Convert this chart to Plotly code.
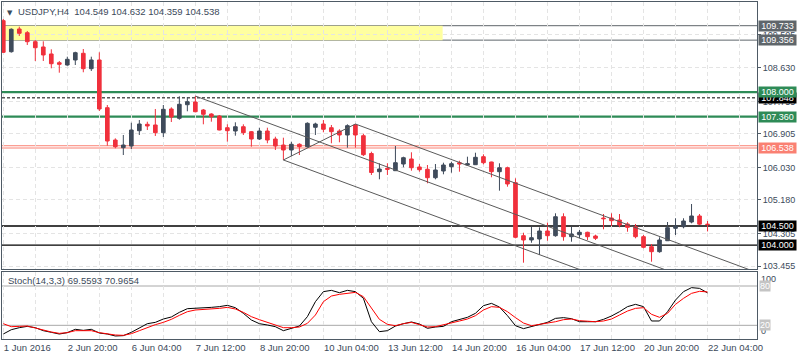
import plotly.graph_objects as go

# ---------------- data ----------------
bars = list(range(89))
opens = [109.864, 109.054, 109.647, 109.550, 109.315, 109.177, 108.994, 108.766, 108.706, 108.837,
         109.012, 108.610, 108.837, 107.591, 106.747, 106.546, 106.590, 106.990, 107.157, 107.139,
         106.938, 107.557, 107.314, 107.669, 107.740, 107.531, 107.426, 107.374, 107.068, 106.982,
         107.094, 106.964, 106.773, 106.982, 106.773, 106.616, 106.486, 106.635, 106.572, 107.079,
         107.165, 107.068, 106.982, 106.878, 107.139, 106.859, 106.394, 105.919, 106.008, 105.945,
         106.120, 106.251, 106.042, 105.982, 105.762, 105.937, 106.050, 106.154, 106.094, 106.102,
         106.311, 106.172, 105.919, 106.023, 105.632, 104.247, 104.135, 104.161, 104.370, 104.247,
         104.743, 104.221, 104.273, 104.336, 104.239, 104.709, 104.709, 104.657, 104.553, 104.482,
         104.221, 103.960, 103.829, 104.116, 104.440, 104.482, 104.605, 104.762, 104.549]
highs = [109.908, 109.665, 109.707, 109.595, 109.359, 109.325, 109.116, 108.811, 108.923, 109.054,
         109.124, 108.923, 109.038, 107.661, 106.791, 106.878, 107.199, 107.269, 107.225, 107.557,
         107.661, 107.601, 107.889, 107.870, 107.896, 107.557, 107.445, 107.400, 107.157, 107.209,
         107.157, 106.982, 107.068, 107.068, 106.833, 106.807, 106.703, 106.661, 107.209, 107.199,
         107.269, 107.139, 107.027, 107.157, 107.165, 106.912, 106.441, 106.138, 106.138, 106.590,
         106.311, 106.426, 106.120, 106.094, 106.120, 106.154, 106.180, 106.206, 106.311, 106.415,
         106.373, 106.180, 106.138, 106.050, 105.746, 104.325, 104.482, 104.466, 104.587, 104.832,
         104.832, 104.482, 104.396, 104.351, 104.273, 104.814, 104.832, 104.814, 104.597, 104.553,
         104.265, 104.030, 104.205, 104.605, 104.702, 104.702, 105.075, 104.814, 104.632]
lows = [109.020, 109.028, 109.464, 109.229, 108.811, 108.811, 108.620, 108.505, 108.688, 108.706,
        108.516, 108.550, 107.505, 106.598, 106.530, 106.355, 106.512, 106.878, 107.008, 106.852,
        106.825, 107.217, 107.277, 107.497, 107.470, 107.157, 107.225, 107.000, 106.703, 106.859,
        106.878, 106.572, 106.747, 106.661, 106.486, 106.225, 106.329, 106.355, 106.546, 106.878,
        106.948, 106.661, 106.687, 106.546, 106.546, 106.329, 105.833, 105.720, 105.833, 105.940,
        106.034, 105.945, 105.919, 105.616, 105.720, 105.851, 105.893, 105.919, 106.090, 106.098,
        106.112, 105.773, 105.423, 105.527, 104.179, 103.542, 104.064, 103.743, 104.116, 104.221,
        104.116, 104.090, 104.179, 104.135, 104.135, 104.414, 104.500, 104.466, 104.351, 104.179,
        103.918, 103.568, 103.803, 104.110, 104.265, 104.440, 104.571, 104.526, 104.359]
closes = [109.038, 109.639, 109.534, 109.315, 109.158, 108.968, 108.740, 108.725, 108.855, 109.028,
          108.610, 108.837, 107.557, 106.721, 106.572, 106.616, 107.008, 107.165, 107.113, 106.938,
          107.549, 107.348, 107.680, 107.748, 107.486, 107.418, 107.356, 107.008, 106.990, 107.094,
          106.938, 106.773, 106.982, 106.747, 106.590, 106.486, 106.635, 106.572, 107.183, 107.165,
          107.027, 106.964, 106.878, 107.121, 106.878, 106.363, 105.898, 105.989, 105.982, 106.154,
          106.285, 106.023, 105.971, 105.762, 105.963, 106.094, 106.128, 106.120, 106.128, 106.295,
          106.154, 105.919, 106.023, 105.598, 104.205, 104.135, 104.195, 104.370, 104.247, 104.743,
          104.221, 104.291, 104.336, 104.221, 104.179, 104.691, 104.639, 104.526, 104.466, 104.221,
          103.944, 103.829, 104.135, 104.456, 104.500, 104.631, 104.762, 104.549, 104.538]

stoch_main = [6.7, 13.3, 16.4, 18.4, 16.4, 11.8, 9.3, 6.7, 8.8, 13.9,
              12.3, 13.9, 8.2, 6.7, 3.7, 4.2, 9.3, 15.4, 22.5, 24.5,
              29.6, 32.7, 39.8, 45.4, 45.9, 45.9, 47.4, 48.5, 50.5, 46.9,
              38.3, 28.1, 22.5, 20.5, 17.9, 11.8, 14.9, 18.9, 33.2, 56.1,
              71.4, 73.4, 69.8, 73.4, 71.4, 61.2, 25.5, 10.3, 11.8, 18.9,
              22.5, 25.1, 22.0, 15.4, 17.4, 18.4, 25.5, 29.1, 32.2, 38.3,
              50.0, 53.5, 47.9, 34.7, 19.4, 14.9, 17.9, 22.0, 24.5, 30.6,
              31.7, 30.1, 25.5, 25.5, 25.5, 29.1, 34.2, 40.8, 48.5, 52.0,
              48.5, 26.6, 26.6, 40.8, 58.6, 71.4, 77.5, 76.4, 69.56]
stoch_signal = [22.5, 17.9, 18.4, 18.9, 15.9, 12.3, 9.8, 7.7, 8.8, 11.8,
                12.3, 11.8, 8.8, 6.7, 5.2, 4.7, 7.2, 11.8, 16.9, 21.0,
                24.5, 29.1, 35.2, 40.8, 43.4, 43.9, 44.9, 45.9, 47.4, 44.9,
                39.8, 33.2, 28.6, 24.5, 20.5, 16.4, 16.4, 17.4, 23.0, 35.7,
                56.1, 64.7, 67.3, 69.3, 70.3, 63.7, 45.9, 29.1, 21.5, 19.4,
                22.5, 24.5, 21.0, 17.4, 17.9, 20.5, 24.0, 26.6, 29.6, 34.7,
                43.4, 48.5, 47.4, 40.8, 31.7, 23.5, 19.4, 21.5, 22.5, 25.5,
                28.6, 29.6, 27.1, 26.1, 25.5, 26.6, 29.6, 35.7, 41.8, 45.9,
                46.9, 36.8, 32.2, 38.3, 52.0, 61.2, 68.8, 71.9, 70.97]

time_label_bars = [0, 8, 16, 24, 32, 40, 48, 56, 64, 72, 80, 88]
time_labels = ["1 Jun 2016", "2 Jun 20:00", "6 Jun 04:00", "7 Jun 12:00", "8 Jun 20:00",
               "10 Jun 04:00", "13 Jun 12:00", "14 Jun 20:00", "16 Jun 04:00",
               "17 Jun 12:00", "20 Jun 20:00", "22 Jun 04:00"]
grid_bars = list(range(0, 96, 4))
price_ticks = [103.455, 104.305, 105.180, 106.030, 106.905, 107.755, 108.630, 109.505]

# horizontal levels
level_prices = [109.733, 109.356, 108.000, 107.848, 107.360, 106.597, 106.538, 104.500, 104.000]
level_colors = ["#5f666b", "#5f666b", "#2e8b57", "#000000", "#2e8b57", "#fa8072", "#fa8072", "#000000", "#000000"]
level_widths = [1, 1, 2.2, 1, 2.2, 1, 1, 1.3, 1.3]
level_dashes = ["solid", "solid", "solid", "3px,2px", "solid", "solid", "solid", "solid", "solid"]

# price label boxes on the right axis (drawn in order)
box_prices = [109.733, 109.356, 107.848, 108.000, 107.360, 106.538, 104.500, 104.000]
box_colors = ["#5f666b", "#5f666b", "#000000", "#2e8b57", "#2e8b57", "#fa8072", "#000000", "#000000"]

zone_low, zone_high, zone_end_bar = 109.356, 109.733, 54.9

# channel / trend lines: start bar, start price, end bar, end price
chan_x0 = [24, 44, 35, 35]
chan_y0 = [107.896, 107.165, 106.225, 106.225]
chan_x1 = [96, 96, 96, 44]
chan_y1 = [102.330, 103.145, 101.510, 107.165]

stoch_levels = [80, 20]

BULL = "#3f4b5b"
BEAR = "#f0303c"
TXT = "#3c4a5a"
BORDER = "#4e5a65"
GRID = "#e4e4e4"
FONT = "Liberation Sans"
FS = 9

fig = go.Figure()

for x0, y0, x1, y1 in zip(chan_x0, chan_y0, chan_x1, chan_y1):
    fig.add_trace(go.Scatter(x=[x0, x1], y=[y0, y1], mode="lines",
                             line=dict(color="#5a5a5a", width=1),
                             xaxis="x", yaxis="y", showlegend=False, hoverinfo="skip"))

fig.add_trace(go.Candlestick(
    x=bars, open=opens, high=highs, low=lows, close=closes,
    xaxis="x", yaxis="y",
    increasing=dict(line=dict(color=BULL, width=1), fillcolor=BULL),
    decreasing=dict(line=dict(color=BEAR, width=1), fillcolor=BEAR),
    whiskerwidth=0, showlegend=False, hoverinfo="skip"))

fig.add_trace(go.Scatter(x=bars, y=stoch_main, mode="lines", line=dict(color="#000000", width=1),
                         xaxis="x2", yaxis="y2", showlegend=False, hoverinfo="skip"))
fig.add_trace(go.Scatter(x=bars, y=stoch_signal, mode="lines", line=dict(color="#ff0000", width=1),
                         xaxis="x2", yaxis="y2", showlegend=False, hoverinfo="skip"))

shapes = []
shapes.append(dict(type="rect", xref="x", yref="y", x0=-2, x1=zone_end_bar, y0=zone_low, y1=zone_high,
                   fillcolor="#ffffa0", line=dict(width=0), layer="below"))
for p, c, w, d in zip(level_prices, level_colors, level_widths, level_dashes):
    shapes.append(dict(type="line", xref="x domain", yref="y", x0=0, x1=1, y0=p, y1=p,
                       line=dict(color=c, width=w, dash=d), layer="below"))
for lv in stoch_levels:
    shapes.append(dict(type="line", xref="x2 domain", yref="y2", x0=0, x1=1, y0=lv, y1=lv,
                       line=dict(color="#a8a8a8", width=1), layer="below"))

annotations = []
for p, c in zip(box_prices, box_colors):
    annotations.append(dict(xref="paper", x=1, xanchor="left", xshift=1, yref="y", y=p,
                            yanchor="middle", text=f"{p:.3f}", showarrow=False,
                            bgcolor=c, font=dict(family=FONT, size=FS, color="#ffffff"),
                            width=37, height=10, borderpad=0, align="center"))
annotations.append(dict(xref="paper", x=0, xanchor="left", xshift=3, yref="y domain", y=1,
                        yanchor="top", yshift=-5, text="▼", showarrow=False,
                        font=dict(family="DejaVu Sans", size=7, color=TXT)))
annotations.append(dict(xref="paper", x=0, xanchor="left", xshift=14, yref="y domain", y=1,
                        yanchor="top", yshift=-2,
                        text="USDJPY,H4\u00a0\u00a0104.549 104.632 104.359 104.538",
                        showarrow=False, font=dict(family=FONT, size=FS + 0.5, color=TXT)))
annotations.append(dict(xref="paper", x=0, xanchor="left", xshift=4, yref="y2 domain", y=1,
                        yanchor="top", yshift=-1,
                        text="Stoch(14,3,3) 69.5593 70.9654",
                        showarrow=False, font=dict(family=FONT, size=FS + 0.5, color=TXT)))
annotations.append(dict(xref="paper", x=1, xanchor="left", xshift=2, yref="y2", y=100,
                        yanchor="top", yshift=1, text="100", showarrow=False,
                        font=dict(family=FONT, size=FS, color=TXT)))
annotations.append(dict(xref="paper", x=1, xanchor="left", xshift=2, yref="y2", y=0,
                        yanchor="bottom", text="0", showarrow=False,
                        font=dict(family=FONT, size=FS, color=TXT)))
for lv in stoch_levels:
    annotations.append(dict(xref="paper", x=1, xanchor="left", xshift=2, yref="y2", y=lv,
                            yanchor="middle", text=str(lv), showarrow=False, bgcolor="#c4c4c4",
                            borderpad=0, font=dict(family=FONT, size=FS, color="#ffffff")))

axis_common = dict(showline=True, mirror=True, linecolor=BORDER, linewidth=1, zeroline=False,
                   automargin=False)

fig.update_layout(
    width=800, height=360,
    margin=dict(l=2, r=43, t=2, b=21, autoexpand=False),
    paper_bgcolor="white", plot_bgcolor="white",
    showlegend=False,
    boxgap=0.35,
    shapes=shapes, annotations=annotations,
    xaxis=dict(domain=[0, 1], anchor="y", range=[-0.16, 94.18],
               tickmode="array", tickvals=grid_bars, showticklabels=False, ticks="",
               showgrid=True, gridcolor=GRID, griddash="4px,3px", gridwidth=1,
               rangeslider=dict(visible=False), **axis_common),
    xaxis2=dict(domain=[0, 1], anchor="y2", matches="x", range=[-0.16, 94.18],
                tickmode="array", tickvals=time_label_bars, ticktext=time_labels,
                ticklabelposition="outside right", ticks="", tickangle=0,
                tickfont=dict(family=FONT, size=FS + 0.5, color=TXT),
                minor=dict(tickvals=grid_bars, showgrid=True, gridcolor=GRID, griddash="4px,3px"),
                showgrid=True, gridcolor=GRID, griddash="4px,3px", gridwidth=1,
                **axis_common),
    yaxis=dict(domain=[0.2077, 1], anchor="x", range=[103.377, 110.352], side="right",
               tickmode="array", tickvals=price_ticks, ticktext=[f"{v:.3f}" for v in price_ticks],
               ticks="outside", ticklen=3, tickcolor=BORDER,
               tickfont=dict(family=FONT, size=FS, color=TXT),
               showgrid=True, gridcolor=GRID, griddash="4px,3px", gridwidth=1,
               **axis_common),
    yaxis2=dict(domain=[0, 0.1988], anchor="x2", range=[-0.9, 101.4], side="right",
                showticklabels=False, ticks="", showgrid=False, **axis_common),
)

fig.write_html("out.html",
               config={"displayModeBar": False, "staticPlot": True},
               post_script="document.body.style.margin='0';document.body.style.overflow='hidden';")
